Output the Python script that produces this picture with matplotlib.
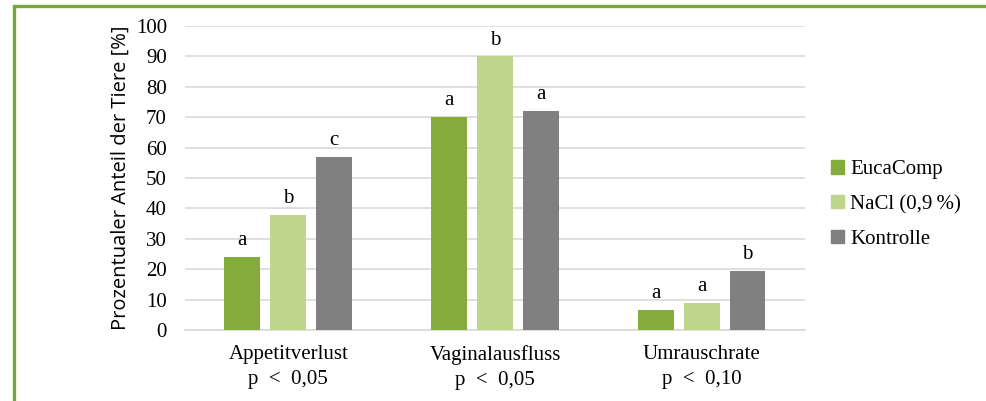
import numpy as np
import matplotlib
matplotlib.use('Agg')
import matplotlib.pyplot as plt
from matplotlib.patches import Rectangle, Patch

categories = ['Appetitverlust', 'Vaginalausfluss', 'Umrauschrate']
p_labels = ['p  <  0,05', 'p  <  0,05', 'p  <  0,10']
series = ['EucaComp', 'NaCl (0,9\u2009%)', 'Kontrolle']
eucacomp = [24, 70, 6.6]
nacl = [38, 90, 9]
kontrolle = [57, 72, 19.5]
letters_euca = ['a', 'a', 'a']
letters_nacl = ['b', 'b', 'a']
letters_kontr = ['c', 'a', 'b']

colors = ['#84AC3C', '#BDD68A', '#808080']
serif = ['Liberation Serif', 'DejaVu Serif']

fig = plt.figure(figsize=(9.86, 4.01), dpi=100)
ax = fig.add_axes([0.1876, 0.177, 0.6288, 0.758])

x = np.arange(len(categories))
w = 0.174
off = 0.222
data = [eucacomp, nacl, kontrolle]
letters = [letters_euca, letters_nacl, letters_kontr]
for i, (vals, lets) in enumerate(zip(data, letters)):
    bars = ax.bar(x + (i - 1) * off, vals, w, color=colors[i], zorder=3)
    for b, l in zip(bars, lets):
        ax.annotate(l, (b.get_x() + b.get_width() / 2, b.get_height()),
                    xytext=(0, 5), textcoords='offset points',
                    ha='center', va='bottom', fontsize=15, family=serif)

ax.set_xlim(-0.5, 2.5)
ax.set_ylim(0, 100)
ax.set_yticks(range(0, 101, 10))
ax.set_xticks(x)
ax.set_xticklabels([c + '\n' + p for c, p in zip(categories, p_labels)],
                   fontsize=15, family=serif, linespacing=1.4)
for t in ax.get_yticklabels():
    t.set_family(serif)
    t.set_fontsize(15)
ax.tick_params(axis='both', length=0)
ax.tick_params(axis='y', pad=13)
ax.tick_params(axis='x', pad=11)
ax.grid(axis='y', color='#D9D9D9', linewidth=1.2, zorder=0)
for s in ['top', 'right', 'left']:
    ax.spines[s].set_visible(False)
ax.spines['bottom'].set_color('#D9D9D9')
ax.spines['bottom'].set_linewidth(1.2)

ax.set_ylabel('Prozentualer Anteil der Tiere [%]', fontsize=14.5,
              family=['Open Sans', 'DejaVu Sans'], labelpad=4)

handles = [Patch(color=c) for c in colors]
fig.legend(handles, series, loc='center left', bbox_to_anchor=(0.824, 0.49),
           frameon=False, prop={'family': serif, 'size': 15},
           handlelength=0.6, handleheight=0.6, handletextpad=0.3,
           labelspacing=0.75)

fig.patches.append(Rectangle((14 / 986, -0.05), 1.0, 1 - 6 / 401 + 0.05,
                             transform=fig.transFigure, fill=False,
                             edgecolor='#70A83A', linewidth=2.4))

fig.savefig('out.png', dpi=100)
